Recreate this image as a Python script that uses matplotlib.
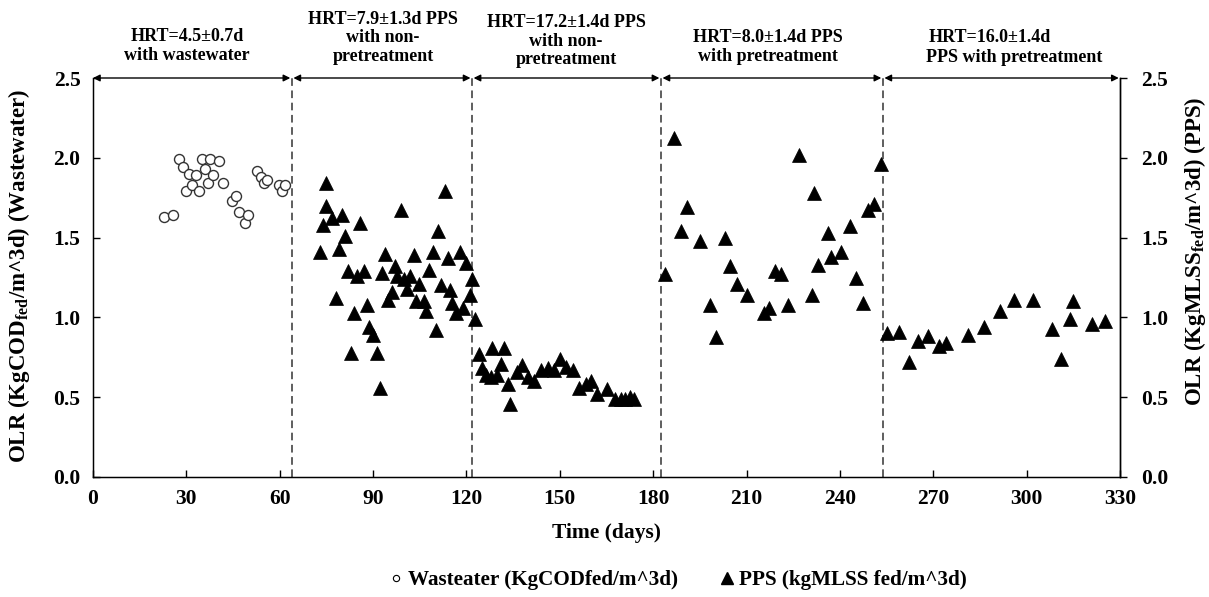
import matplotlib
matplotlib.use("Agg")
import matplotlib.pyplot as plt
from matplotlib.lines import Line2D
from matplotlib.transforms import blended_transform_factory

plt.rcParams['font.family'] = ['Liberation Serif', 'DejaVu Serif']
plt.rcParams['font.weight'] = 'bold'
plt.rcParams['mathtext.fontset'] = 'custom'
plt.rcParams['mathtext.rm'] = 'Liberation Serif:bold'
plt.rcParams['mathtext.bf'] = 'Liberation Serif:bold'
plt.rcParams['mathtext.it'] = 'Liberation Serif:bold'

# ---------------- data ----------------
ww_days = [22.8, 25.8, 27.7, 28.8, 29.8, 30.9, 31.9, 33.0, 34.0, 35.0, 36.0, 36.9,
           37.6, 38.7, 40.6, 41.7, 44.7, 46.0, 46.8, 48.9, 49.8, 52.8, 53.9, 55.0,
           56.0, 59.7, 60.7, 61.7]
ww_olr = [1.63, 1.64, 1.99, 1.94, 1.79, 1.90, 1.83, 1.89, 1.79, 1.99, 1.93, 1.84,
          1.99, 1.89, 1.98, 1.84, 1.73, 1.76, 1.66, 1.59, 1.64, 1.92, 1.88, 1.84,
          1.86, 1.83, 1.79, 1.83]

pps_days = [72.8, 73.9, 74.9, 75.0, 76.9, 78.0, 79.0, 80.0, 81.0, 81.9, 83.0, 84.0,
            84.8, 85.9, 87.1, 88.0, 88.7, 90.1, 91.1, 92.1, 92.8, 93.9, 94.9, 96.0,
            96.9, 97.6, 98.9, 99.8, 100.9, 101.9, 103.0, 103.9, 104.9, 106.2, 107.0,
            108.0, 109.1, 110.1, 111.0, 111.9, 113.0, 114.2, 114.8, 115.5, 116.7,
            117.8, 118.9, 119.8, 121.0, 121.8, 122.9,
            124.0, 125.1, 126.4, 127.9, 128.2, 129.8, 131.1, 132.2, 133.2, 134.1,
            136.2, 137.9, 139.8, 141.8, 144.0, 146.1, 148.0, 149.9, 152.1, 154.1,
            156.2, 158.3, 160.1, 162.0, 165.0, 167.8, 169.5, 171.1, 172.4, 173.7,
            183.8, 186.8, 189.0, 190.9, 195.2, 198.1, 200.2, 203.2, 204.8, 207.0,
            210.0, 215.5, 217.1, 219.0, 221.1, 223.2, 226.9, 230.9, 231.8, 233.0,
            236.1, 237.2, 240.2, 243.2, 245.1, 247.3, 249.0, 250.9, 253.1,
            255.0, 259.1, 262.2, 265.2, 268.3, 271.9, 274.1, 281.0, 286.2, 291.3,
            295.9, 302.0, 308.0, 311.1, 313.9, 314.9, 321.0, 325.2]
pps_olr = [1.41, 1.58, 1.70, 1.84, 1.62, 1.12, 1.43, 1.64, 1.51, 1.29, 0.78, 1.03,
           1.26, 1.59, 1.29, 1.08, 0.94, 0.89, 0.78, 0.56, 1.28, 1.40, 1.11, 1.16,
           1.32, 1.26, 1.67, 1.24, 1.18, 1.26, 1.39, 1.10, 1.21, 1.10, 1.04,
           1.30, 1.41, 0.92, 1.54, 1.20, 1.79, 1.375, 1.17, 1.09, 1.03,
           1.41, 1.06, 1.34, 1.14, 1.24, 0.99,
           0.77, 0.68, 0.64, 0.625, 0.81, 0.64, 0.71, 0.81, 0.58, 0.46,
           0.66, 0.70, 0.625, 0.60, 0.67, 0.68, 0.67, 0.74, 0.69, 0.67,
           0.56, 0.58, 0.60, 0.52, 0.55, 0.49, 0.49, 0.49, 0.50, 0.49,
           1.27, 2.125, 1.54, 1.69, 1.48, 1.08, 0.88, 1.50, 1.32, 1.21,
           1.14, 1.03, 1.06, 1.29, 1.27, 1.08, 2.02, 1.14, 1.78, 1.33,
           1.53, 1.38, 1.41, 1.57, 1.25, 1.09, 1.67, 1.71, 1.96,
           0.90, 0.91, 0.72, 0.85, 0.885, 0.82, 0.84, 0.89, 0.94, 1.04,
           1.11, 1.11, 0.93, 0.74, 0.99, 1.10, 0.96, 0.98]

phase_bounds = [63.9, 121.8, 182.5, 253.8]
arrow_spans = [(0, 63.4), (64.4, 121.3), (122.3, 182.0), (183.0, 253.3), (254.3, 329.6)]
phase_labels = ["HRT=4.5\u00b10.7d\nwith wastewater",
                "HRT=7.9\u00b11.3d PPS\nwith non-\npretreatment",
                "HRT=17.2\u00b11.4d PPS\nwith non-\npretreatment",
                "HRT=8.0\u00b11.4d PPS\nwith pretreatment"]
phase_label_x = [30.2, 93.2, 152.0, 217.0]
phase_label_ypx = [46, 38, 41, 47]

xticks = [0, 30, 60, 90, 120, 150, 180, 210, 240, 270, 300, 330]
yticks = [0.0, 0.5, 1.0, 1.5, 2.0, 2.5]

# ---------------- figure ----------------
W, H = 1209, 597
fig = plt.figure(figsize=(W / 100, H / 100), dpi=100)
ax = fig.add_axes([93 / W, 1 - 477 / H, (1120 - 93) / W, (477 - 78) / H])

ax.plot(ww_days, ww_olr, linestyle='none', marker='o', ms=7.2, mfc='white',
        mec='#333333', mew=1.0, zorder=3)
ax.plot(pps_days, pps_olr, linestyle='none', marker='^', ms=9.5, mfc='black',
        mec='black', mew=0.5, zorder=3)

ax.set_xlim(0, 330)
ax.set_ylim(0, 2.5)
ax.set_xticks(xticks)
ax.set_xticklabels([str(t) for t in xticks])
ax.set_yticks(yticks)
ax.set_yticklabels([f"{t:.1f}" for t in yticks])
ax.tick_params(axis='both', direction='in', length=5, width=1, labelsize=15.5, pad=9)
ax.spines['top'].set_visible(False)
for s in ['left', 'bottom', 'right']:
    ax.spines[s].set_linewidth(1)

for xb in phase_bounds:
    ax.axvline(xb, ymin=0, ymax=1, color='#333333', lw=1.1, dashes=(5, 3), zorder=2)

for x0, x1 in arrow_spans:
    ax.annotate('', xy=(x1, 2.5), xytext=(x0, 2.5), xycoords='data',
                arrowprops=dict(arrowstyle='<|-|>', color='black', lw=1,
                                mutation_scale=10, shrinkA=0, shrinkB=0),
                annotation_clip=False)

tr = blended_transform_factory(ax.transData, fig.transFigure)
for lab, xx, yp in zip(phase_labels, phase_label_x, phase_label_ypx):
    ax.text(xx, 1 - yp / H, lab, transform=tr, ha='center', va='center',
            fontsize=13, fontweight='bold', linespacing=1.15)
ax.text(288.0, 1 - 38 / H, "HRT=16.0\u00b11.4d", transform=tr, ha='center',
        va='center', fontsize=13, fontweight='bold')
ax.text(296.0, 1 - 58 / H, "PPS with pretreatment", transform=tr, ha='center',
        va='center', fontsize=13, fontweight='bold')

ax.set_xlabel("Time (days)", fontsize=15.5, fontweight='bold', labelpad=10)
ax.set_ylabel(r"OLR (KgCOD$_{\rm fed}$/m^3d) (Wastewater)", fontsize=16.5,
              fontweight='bold')
ax.yaxis.set_label_coords(-0.0595, 0.505)

ax2 = ax.twinx()
ax2.set_ylim(0, 2.5)
ax2.set_yticks(yticks)
ax2.set_yticklabels([f"{t:.1f}" for t in yticks])
ax2.tick_params(axis='y', direction='out', length=5, width=1, labelsize=15.5, pad=10)
ax2.spines['top'].set_visible(False)
ax2.spines['right'].set_linewidth(1)
ax2.set_ylabel(r"OLR (KgMLSS$_{\rm fed}$/m^3d) (PPS)", fontsize=16.5,
               fontweight='bold')
ax2.yaxis.set_label_coords(1.060, 0.565)

handles = [Line2D([], [], linestyle='none', marker='o', ms=4.5, mfc='white',
                  mec='black', mew=0.8),
           Line2D([], [], linestyle='none', marker='^', ms=8, mfc='black',
                  mec='black')]
fig.legend(handles, ["Wasteater (KgCODfed/m^3d)", "PPS (kgMLSS fed/m^3d)"],
           loc='center', bbox_to_anchor=(0.561, 1 - 580 / H), ncol=2,
           frameon=False, handlelength=0.6, handletextpad=0.3,
           columnspacing=2.0, prop=dict(family='Liberation Serif',
                                         weight='bold', size=15.2))

fig.savefig("out.png", dpi=100)
